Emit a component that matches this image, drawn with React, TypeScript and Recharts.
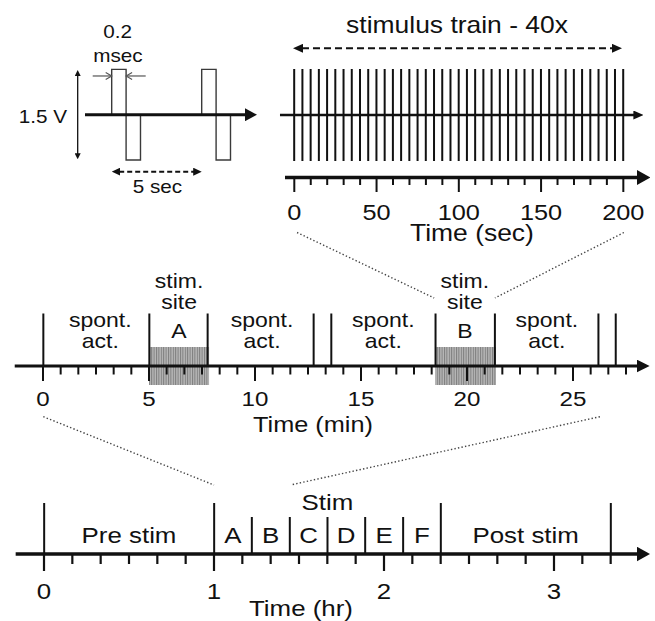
import React from 'react';
import { ComposedChart, Line, Bar, XAxis, YAxis, ReferenceLine, ReferenceArea, ReferenceDot } from 'recharts';

const FONT = '"Liberation Sans", Arial, Helvetica, sans-serif';
const INK = '#111111';
const SX = 1.15;

// ================= DATA =================
// Panel 1 – biphasic pulse pair (schematic time in sec, amplitude in V)
const pulseWaveT = [0, 0, 0.8, 0.8, 1.6, 1.6, 5, 5, 5.8, 5.8, 6.6, 6.6];
const pulseWaveV = [0, 0.75, 0.75, -0.75, -0.75, 0, 0, 0.75, 0.75, -0.75, -0.75, 0];
const pulseInterval = [0, 5];

// Panel 2 – stimulus train (sec)
const trainPulseTimes = [0, 5, 10, 15, 20, 25, 30, 35, 40, 45, 50, 55, 60, 65, 70, 75, 80, 85, 90, 95, 100, 105, 110, 115, 120, 125, 130, 135, 140, 145, 150, 155, 160, 165, 170, 175, 180, 185, 190, 195, 200];
const secTicks = [0, 10, 20, 30, 40, 50, 60, 70, 80, 90, 100, 110, 120, 130, 140, 150, 160, 170, 180, 190, 200];
const secMajorTicks = [0, 50, 100, 150, 200];
const secTickLabels = ['0', '50', '100', '150', '200'];

// Panel 3 – stimulation-site session (time in sec, labelled in min)
const minBoundaries = [0, 300, 465, 765, 815, 1110, 1278, 1571, 1620];
const stimSites = ['A', 'B'];
const stimStart = [300, 1110];
const stimEnd = [470, 1282];
const stimLabelX = [385, 1194];
const spontLabelX = [162, 620, 963, 1426];
const minTicks = [0, 50, 100, 150, 200, 250, 300, 350, 400, 450, 500, 550, 600, 650, 700, 750, 800, 850, 900, 950, 1000, 1050, 1100, 1150, 1200, 1250, 1300, 1350, 1400, 1450, 1500, 1550, 1600, 1650];
const minMajorTicks = [0, 300, 600, 900, 1200, 1500];
const minTickLabels = ['0', '5', '10', '15', '20', '25'];
// zoom guides towards the train panel (x in sec of this panel)
const upperGuideFrom = [719, 1644];
const upperGuideTo = [1107, 1279];

// Panel 4 – whole experiment (time in min, labelled in hr)
const hrTallBoundaries = [0, 60, 140, 200];
const hrShortBoundaries = [73.3, 86.7, 100, 113.3, 126.7];
const hrSegLabels = ['Pre stim', 'A', 'B', 'C', 'D', 'E', 'F', 'Post stim'];
const hrSegStart = [0, 60, 73.3, 86.7, 100, 113.3, 126.7, 140];
const hrSegEnd = [60, 73.3, 86.7, 100, 113.3, 126.7, 140, 200];
const hrTicks = [0, 10, 20, 30, 40, 50, 60, 70, 80, 90, 100, 110, 120, 130, 140, 150, 160, 170, 180, 190, 200];
const hrMajorTicks = [0, 60, 120, 180];
const hrTickLabels = ['0', '1', '2', '3'];
// zoom guides towards the session panel (x in min of this panel)
const lowerGuideFrom = [-0.25, 196.2];
const lowerGuideTo = [60, 87];

// ---- tables built for the library (heights are drawing sizes of the schematic marks) ----
const pulseData = pulseWaveT.map((t, i) => ({ t, v: pulseWaveV[i] }));
const trainData = trainPulseTimes.map((t) => ({ t, span: [16.5, 108.5] }));
const minData = minBoundaries.map((t) => ({ t, span: [0, 52.5] }));
const hrData = [
  ...hrTallBoundaries.map((t) => ({ t, span: [0, 51] })),
  ...hrShortBoundaries.map((t) => ({ t, span: [0, 37] })),
].sort((a, b) => a.t - b.t);

// ================= HELPERS =================
const SText = ({ x, y, size, children, anchor = 'middle' }: any) => (
  <text
    transform={`translate(${x},${y}) scale(${SX},1)`}
    textAnchor={anchor}
    fontSize={size}
    fontFamily={FONT}
    fill={INK}
  >
    {children}
  </text>
);

const txt = (key: string, x: number, y: number, lines: string[], size: number, lh = 0) => (
  <ReferenceDot
    key={key}
    x={x}
    y={y}
    r={0}
    ifOverflow="visible"
    shape={(p: any) => (
      <g>
        {lines.map((s, i) => (
          <SText key={i} x={p.cx} y={p.cy + i * lh} size={size}>
            {s}
          </SText>
        ))}
      </g>
    )}
  />
);

const FilledArrow = ({ id, len, half, color = INK }: any) => (
  <marker
    id={id}
    viewBox={`0 0 ${len} ${2 * half}`}
    refX={1}
    refY={half}
    markerWidth={len}
    markerHeight={2 * half}
    markerUnits="userSpaceOnUse"
    orient="auto-start-reverse"
  >
    <path d={`M0,0 L${len},${half} L0,${2 * half} Z`} fill={color} />
  </marker>
);

const OpenArrow = ({ id, len, half, color = '#555' }: any) => (
  <marker
    id={id}
    viewBox={`-1 -1 ${len + 2} ${2 * half + 2}`}
    refX={len}
    refY={half}
    markerWidth={len + 2}
    markerHeight={2 * half + 2}
    markerUnits="userSpaceOnUse"
    orient="auto"
  >
    <path d={`M0,0 L${len},${half} L0,${2 * half}`} fill="none" stroke={color} strokeWidth={1.2} />
  </marker>
);

type ArrowOpts = { stroke?: string; width: number; dash?: string; end?: string; start?: string; endLen?: number; startLen?: number };
const arrowLine = (o: ArrowOpts) => (p: any) => {
  let { x1, y1, x2, y2 } = p;
  const dx = x2 - x1;
  const dy = y2 - y1;
  const L = Math.hypot(dx, dy) || 1;
  const ux = dx / L;
  const uy = dy / L;
  if (o.endLen) {
    x2 -= ux * (o.endLen - 1);
    y2 -= uy * (o.endLen - 1);
  }
  if (o.startLen) {
    x1 += ux * (o.startLen - 1);
    y1 += uy * (o.startLen - 1);
  }
  return (
    <line
      x1={x1}
      y1={y1}
      x2={x2}
      y2={y2}
      stroke={o.stroke ?? INK}
      strokeWidth={o.width}
      strokeDasharray={o.dash}
      markerEnd={o.end ? `url(#${o.end})` : undefined}
      markerStart={o.start ? `url(#${o.start})` : undefined}
    />
  );
};

const seg = (key: string, xa: number, ya: number, xb: number, yb: number, shape: any) => (
  <ReferenceLine
    key={key}
    segment={[
      { x: xa, y: ya },
      { x: xb, y: yb },
    ]}
    ifOverflow="visible"
    shape={shape}
  />
);

const makeTick = (majors: number[], labels: string[], minorLen: number, majorLen: number, labelDy: number, size: number, sw: number) => (p: any) => {
  const v = p.payload?.value;
  const i = majors.indexOf(v);
  const len = i >= 0 ? majorLen : minorLen;
  return (
    <g>
      <line x1={p.x} x2={p.x} y1={p.y} y2={p.y + len} stroke={INK} strokeWidth={sw} />
      {i >= 0 ? (
        <SText x={p.x} y={p.y + labelDy} size={size}>
          {labels[i]}
        </SText>
      ) : null}
    </g>
  );
};

const dotted = (p: any) => (
  <line x1={p.x1} y1={p.y1} x2={p.x2} y2={p.y2} stroke="#444" strokeWidth={1.4} strokeDasharray="1.4 2.2" />
);

// ================= PANEL 1: pulse =================
const PulseChart = () => (
  <ComposedChart width={280} height={200} data={pulseData} margin={{ top: 0, right: 0, bottom: 0, left: 0 }}>
    <defs>
      <FilledArrow id="p-base" len={12} half={6.5} />
      <FilledArrow id="p-amp" len={6} half={3} />
      <FilledArrow id="p-dash" len={8.5} half={4} />
      <OpenArrow id="p-open" len={6} half={3.5} />
    </defs>
    <XAxis type="number" dataKey="t" domain={[-6.205, 9.35]} allowDataOverflow hide />
    <YAxis type="number" domain={[-1.41, 1.896]} allowDataOverflow hide />
    <Line dataKey="v" type="linear" stroke="#3a3a3a" strokeWidth={1.4} dot={false} activeDot={false} isAnimationActive={false} />
    {seg('base', -1.483, 0, 8.072, 0, arrowLine({ width: 3, end: 'p-base', endLen: 12 }))}
    {seg('amp', -1.889, 0.739, -1.889, -0.737, arrowLine({ width: 1.3, end: 'p-amp', endLen: 6, start: 'p-amp', startLen: 6 }))}
    {seg('wl', -1.055, 0.64, 0, 0.64, arrowLine({ width: 1.2, stroke: '#555', end: 'p-open' }))}
    {seg('wr', 1.889, 0.64, 0.8, 0.64, arrowLine({ width: 1.2, stroke: '#555', end: 'p-open' }))}
    {seg('isi', pulseInterval[0], -0.942, pulseInterval[1], -0.942, arrowLine({ width: 2, dash: '5 3', end: 'p-dash', endLen: 8.5, start: 'p-dash', startLen: 8.5 }))}
    {txt('t02', 0.33, 1.268, ['0.2'], 18)}
    {txt('tms', 0.35, 0.876, ['msec'], 18)}
    {txt('tv', -3.817, -0.132, ['1.5 V'], 18)}
    {txt('t5', 2.544, -1.294, ['5 sec'], 18)}
  </ComposedChart>
);

// ================= PANEL 2: train =================
const TrainChart = () => (
  <ComposedChart width={655} height={250} data={trainData} margin={{ top: 0, right: 7, bottom: 0, left: 277.85 }}>
    <defs>
      <FilledArrow id="t-base" len={10} half={4.5} />
      <FilledArrow id="t-axis" len={13.5} half={7.5} />
      <FilledArrow id="t-dash" len={10} half={4.5} />
    </defs>
    <XAxis
      type="number"
      dataKey="t"
      domain={[-10, 215]}
      allowDataOverflow
      ticks={secTicks}
      interval={0}
      tickSize={0}
      tickMargin={0}
      tickLine={false}
      axisLine={false}
      height={72.5}
      tick={makeTick(secMajorTicks, secTickLabels, 7.5, 14.5, 42, 22, 2)}
    />
    <YAxis type="number" domain={[0, 177.5]} allowDataOverflow hide />
    {seg('tbase', -8.7, 62.5, 212.2, 62.5, arrowLine({ width: 2.3, end: 't-base', endLen: 10 }))}
    <Bar dataKey="span" barSize={2} fill={INK} isAnimationActive={false} />
    {seg('taxis', -5.65, 0, 216.4, 0, arrowLine({ width: 3.5, end: 't-axis', endLen: 13.5 }))}
    {seg('tdash', trainPulseTimes[0] - 0.8, 129.2, trainPulseTimes[trainPulseTimes.length - 1] - 0.8, 129.2, arrowLine({ width: 2, dash: '7 4', end: 't-dash', endLen: 10, start: 't-dash', startLen: 10 }))}
    {txt('ttl', 98.9, 144.2, ['stimulus train - 40x'], 23)}
    {txt('tsec', 108, -63, ['Time (sec)'], 23)}
  </ComposedChart>
);

// ================= PANEL 3: session (min) =================
const MinChart = () => (
  <ComposedChart width={655} height={220} data={minData} margin={{ top: 0, right: 4.27, bottom: 0, left: 14.73 }}>
    <defs>
      <FilledArrow id="m-axis" len={13} half={6.5} />
      <pattern id="m-stripes" width="2.4" height="10" patternUnits="userSpaceOnUse">
        <rect width="2.4" height="10" fill="#b8b8b8" />
        <rect width="1" height="10" fill="#7c7c7c" />
      </pattern>
    </defs>
    <XAxis
      type="number"
      dataKey="t"
      domain={[-80, 1720]}
      allowDataOverflow
      ticks={minTicks}
      interval={0}
      tickSize={0}
      tickMargin={0}
      tickLine={false}
      axisLine={false}
      height={79}
      tick={makeTick(minMajorTicks, minTickLabels, 8.5, 15, 39.5, 21, 2)}
    />
    <YAxis type="number" domain={[0, 141]} allowDataOverflow hide />
    {stimSites.map((s, i) => (
      <ReferenceArea key={`blk${s}`} x1={stimStart[i]} x2={stimEnd[i]} y1={-19} y2={19} ifOverflow="visible" fill="url(#m-stripes)" fillOpacity={1} stroke="none" />
    ))}
    {seg('maxis', -80, 0, 1716.8, 0, arrowLine({ width: 3, end: 'm-axis', endLen: 13 }))}
    <Bar dataKey="span" barSize={2} fill={INK} isAnimationActive={false} />
    {spontLabelX.map((x, i) => txt(`sp${i}`, x, 39, ['spont.', 'act.'], 20, 21))}
    {stimSites.map((s, i) => txt(`ss${s}`, stimLabelX[i], 78, ['stim.', 'site'], 20, 21))}
    {stimSites.map((s, i) => txt(`sl${s}`, stimLabelX[i], 28, [s], 20))}
    {txt('mtime', 764, -65.5, ['Time (min)'], 22)}
    {upperGuideFrom.map((x, i) => seg(`ug${i}`, x, 133.5, upperGuideTo[i], 68, dotted))}
  </ComposedChart>
);

// ================= PANEL 4: experiment (hr) =================
const HrChart = () => (
  <ComposedChart width={655} height={211} data={hrData} margin={{ top: 0, right: 4.67, bottom: 0, left: 15.67 }}>
    <defs>
      <FilledArrow id="h-axis" len={13.5} half={7.5} />
    </defs>
    <XAxis
      type="number"
      dataKey="t"
      domain={[-10, 214]}
      allowDataOverflow
      ticks={hrTicks}
      interval={0}
      tickSize={0}
      tickMargin={0}
      tickLine={false}
      axisLine={false}
      height={67}
      tick={makeTick(hrMajorTicks, hrTickLabels, 10, 17, 44.5, 22.5, 2.2)}
    />
    <YAxis type="number" domain={[0, 144]} allowDataOverflow hide />
    {seg('haxis', -10, 0, 213.9, 0, arrowLine({ width: 3.5, end: 'h-axis', endLen: 13.5 }))}
    <Bar dataKey="span" barSize={2} fill={INK} isAnimationActive={false} />
    {hrSegLabels.map((s, i) => txt(`hl${i}`, (hrSegStart[i] + hrSegEnd[i]) / 2, 10.7, [s], 22.5))}
    {txt('hstim', (hrSegStart[1] + hrSegEnd[6]) / 2, 44, ['Stim'], 22.5)}
    {txt('htime', 90.7, -61.8, ['Time (hr)'], 22.5)}
    {lowerGuideFrom.map((x, i) => seg(`lg${i}`, x, 137.3, lowerGuideTo[i], 69, dotted))}
  </ComposedChart>
);

export default function App() {
  return (
    <div style={{ position: 'absolute', left: 0, top: 0, width: 655, height: 621, background: '#fff', overflow: 'hidden' }}>
      <div style={{ position: 'absolute', left: 0, top: 0 }}>
        <TrainChart />
      </div>
      <div style={{ position: 'absolute', left: 0, top: 0 }}>
        <PulseChart />
      </div>
      <div style={{ position: 'absolute', left: 0, top: 225 }}>
        <MinChart />
      </div>
      <div style={{ position: 'absolute', left: 0, top: 410 }}>
        <HrChart />
      </div>
    </div>
  );
}
